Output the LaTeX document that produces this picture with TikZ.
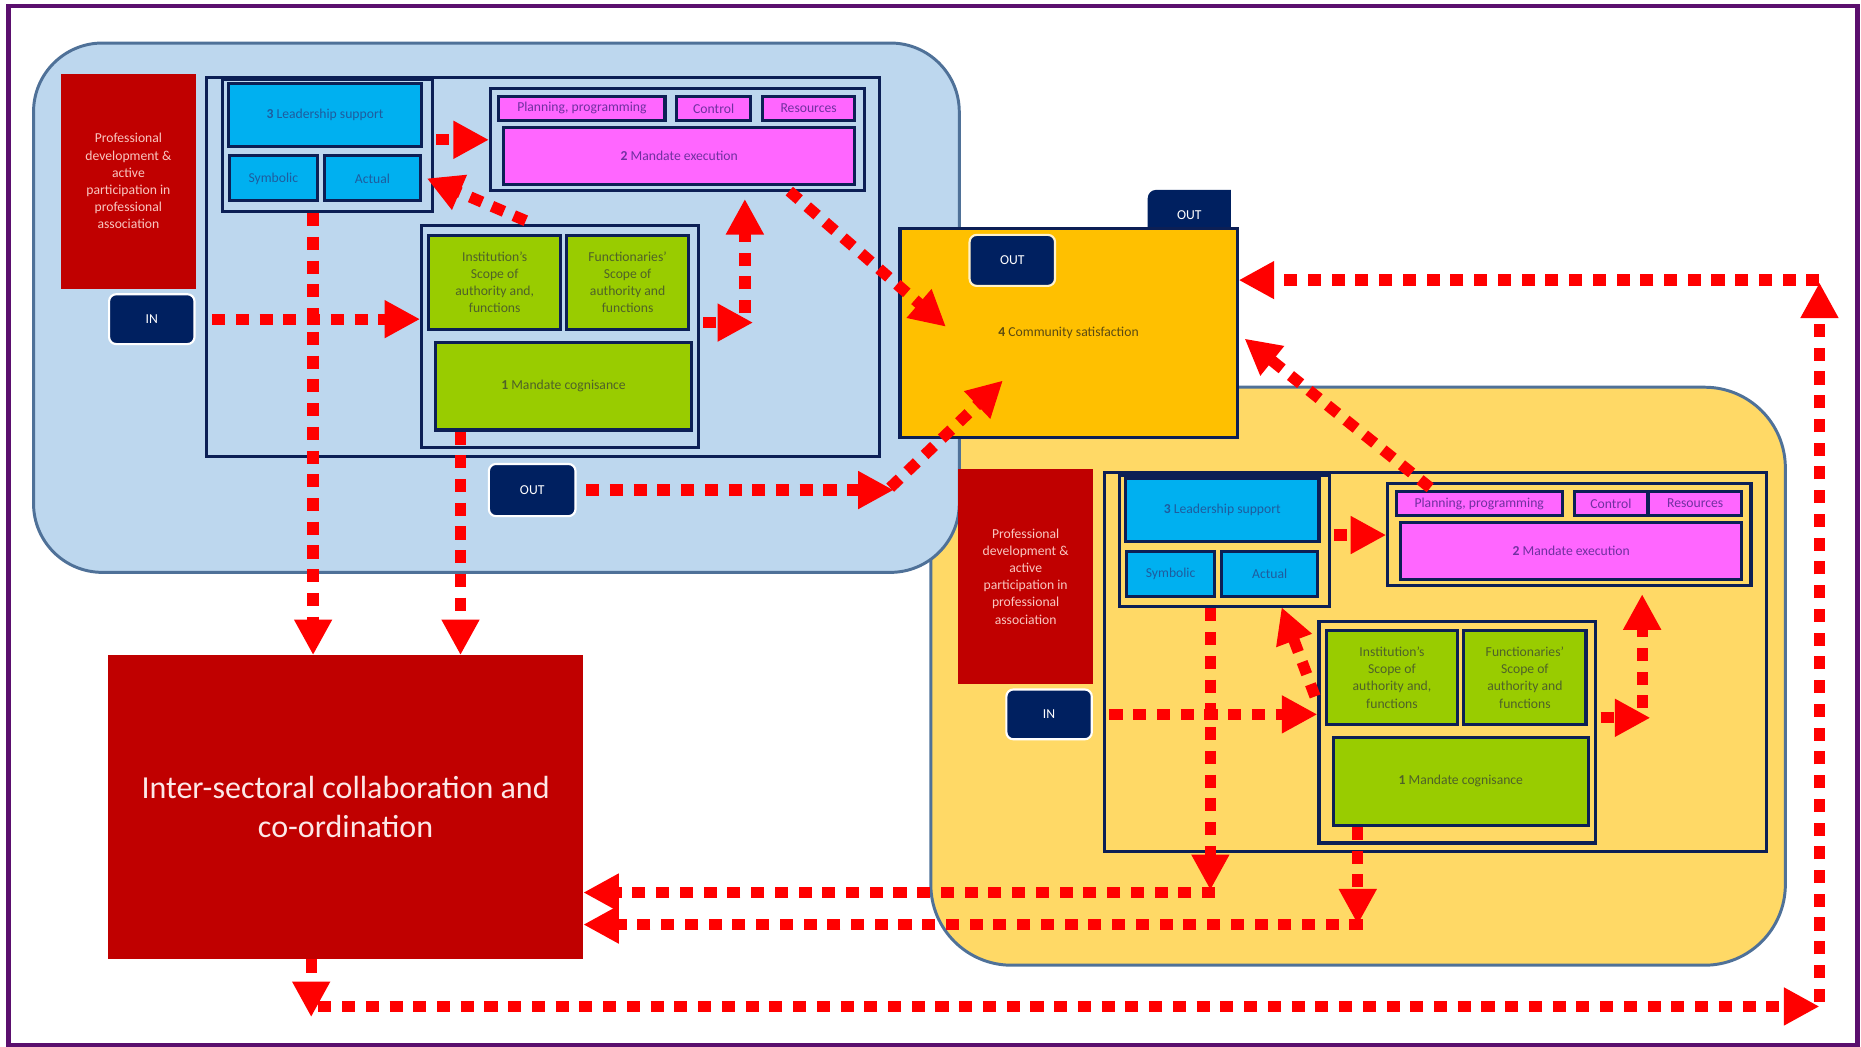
\documentclass[tikz,border=0pt]{standalone}
\usepackage{fontspec}
\setmainfont{Carlito}
\usetikzlibrary{arrows.meta,calc}

\definecolor{frameblue}{HTML}{0C1F55}
\definecolor{portnavy}{HTML}{002060}
\definecolor{lscyan}{HTML}{00B0F0}
\definecolor{lspink}{HTML}{FF66FF}
\definecolor{lsgreen}{HTML}{99CC00}
\definecolor{lsorange}{HTML}{FFC000}
\definecolor{lsred}{HTML}{C00000}
\definecolor{regblue}{HTML}{BDD7EE}
\definecolor{reggold}{HTML}{FFD966}
\definecolor{regline}{HTML}{4F7198}
\definecolor{flowred}{HTML}{FF0000}
\definecolor{edgepurple}{HTML}{5B0F6E}
\definecolor{cyantext}{HTML}{1F5C9E}
\definecolor{pinktext}{HTML}{7030A0}
\definecolor{greentext}{HTML}{4F6228}
\definecolor{cstext}{HTML}{5B4A12}
\definecolor{pdtext}{HTML}{F8C6C0}
\definecolor{isctext}{HTML}{FCE8E8}
\definecolor{cream}{HTML}{FFF2CC}

% rectangle node given by its corners: style, name, x1, y1, x2, y2, text
\newcommand\rbox[7]{\node[#1, anchor=north west, minimum width={(#5)-(#3)}, minimum height={(#6)-(#4)}] (#2) at (#3,#4) {#7};}

% one governance unit (leadership, execution, cognisance)
\newcommand\govsystem[1]{%
  \def\dx{#1}%
  \rbox{pdbox}{PD}{51}{62}{165}{243}{Professional\\development \&\\active\\participation in\\professional\\association}
  \rbox{portbox}{IN}{91}{247}{163}{289}{IN}
  \rbox{grp}{frame}{173}{64}{740-\dx}{383}{}
  \rbox{grp}{leadgrp}{186}{66}{363}{177}{}
  \rbox{cyanbox}{lead}{191}{69}{354}{122}{\textbf{3} Leadership support}
  \rbox{cyanbox}{symb}{192}{130}{266}{168}{Symbolic}
  \rbox{cyanbox}{actual}{272}{130}{353}{168}{Actual}
  \rbox{grp}{execgrp}{412}{73}{727-\dx}{159}{}
  \rbox{pinkbox}{plan}{419}{80}{559}{100}{Planning, programming}
  \rbox{pinkbox}{ctrl}{569}{80}{631}{100}{Control}
  \rbox{pinkbox}{res}{641-\dx}{80}{719-\dx}{100}{Resources}
  \rbox{pinkbox}{exec}{423}{106}{719-\dx}{154}{\textbf{2} Mandate execution}
  \rbox{grp}{cogngrp}{354}{189}{587}{376}{}
  \rbox{greenbox}{inst}{360}{197}{471}{276}{Institution’s\\Scope of\\authority and,\\functions}
  \rbox{greenbox}{func}{476}{197}{579}{276}{Functionaries’\\Scope of\\authority and\\functions}
  \rbox{greenbox}{cogn}{366}{287}{581}{361}{\textbf{1} Mandate cognisance}
}

\begin{document}
\begin{tikzpicture}[x=1pt, y=-1pt,
  smallfont/.style={font=\fontsize{11.5}{14.5}\selectfont},
  box/.style={draw=frameblue, line width=2.6pt, inner sep=0pt, align=center, smallfont},
  grp/.style={draw=frameblue, line width=2.6pt, inner sep=0pt},
  cyanbox/.style={box, fill=lscyan, text=cyantext},
  pinkbox/.style={box, fill=lspink, text=pinktext},
  greenbox/.style={box, fill=lsgreen, text=greentext},
  portbox/.style={fill=portnavy, draw=white, line width=1.8pt, rounded corners=6pt, text=white, inner sep=0pt, smallfont},
  pdbox/.style={fill=lsred, inner sep=0pt, align=center, text=pdtext, smallfont},
  region/.style={draw=regline, line width=2.5pt, inner sep=0pt},
  flow/.style={draw=flowred, line width=9.5pt, dash pattern=on 11pt off 9pt,
    -{Triangle[length=30pt,width=30pt]}},
]
\useasboundingbox (0,0) rectangle (1568,882);
\node[draw=edgepurple, line width=4pt, anchor=north west, minimum width=1558pt, minimum height=876pt, inner sep=0pt] (edge) at (5,3) {};

% background regions
\rbox{region, fill=reggold, rounded corners=68pt}{goldregion}{783}{325}{1503}{812}{}
\rbox{region, fill=regblue, rounded corners=58pt}{blueregion}{27}{35}{807}{481}{}

% the two units
\begin{scope}[name prefix=A-]
  \govsystem{0}
  \rbox{portbox}{OUT}{411}{390}{484}{434}{OUT}
\end{scope}
\begin{scope}[shift={(756,333)}, name prefix=B-]
  \govsystem{9}
\end{scope}

% community satisfaction
\fill[portnavy, rounded corners=7pt] (967,195) -- (967,160) [sharp corners] -- (1037,160) -- (1037,195) -- cycle;
\node[text=white, smallfont] (outtop) at (1002,181) {OUT};
\rbox{box, fill=lsorange, text=cstext}{cs}{757}{191}{1041}{367}{\textbf{4} Community satisfaction}
\rbox{portbox, draw=cream}{csout}{816}{197}{888}{240}{OUT}

% inter-sectoral collaboration
\rbox{fill=lsred, text=isctext, align=center, inner sep=0pt, font=\fontsize{27}{33}\selectfont}{isc}{91}{552}{491}{808}{Inter-sectoral collaboration and\\co-ordination}

% helper points
\coordinate (rowA) at (0,752);
\coordinate (rowB) at (0,779);
\coordinate (rowC) at (0,848);
\coordinate (loopSE) at (1533,848);
\coordinate (loopNE) at (1533,236);

% ---- flows of the upper unit
\draw[flow] ([xshift=14pt]A-IN.east) -- (A-IN.east -| A-cogngrp.west);
\coordinate (a2s) at ([xshift=-12pt]A-leadgrp.south);
\draw[flow] (a2s) -- (a2s |- A-frame.south) -- (a2s |- isc.north);
\coordinate (a3s) at ([xshift=22pt]A-cogn.south west);
\draw[flow] (a3s) -- (a3s |- isc.north);
\coordinate (a4s) at ([shift={(2,-5)}]A-leadgrp.east);
\draw[flow] (a4s) -- (a4s -| A-execgrp.west);
\coordinate (a5s) at ([shift={(89,-3)}]A-cogngrp.north west);
\draw[flow] (a5s) -- ([xshift=4pt]A-actual.east);
\coordinate (a6s) at ([shift={(3,-12)}]A-cogngrp.east);
\draw[flow] (a6s) -- ([xshift=42pt]a6s);
\coordinate (a6v) at ([shift={(38,-20)}]A-cogngrp.east);
\draw[flow] (a6v) -- ($(a6v |- A-execgrp.south)+(0,6)$);
\coordinate (a7s) at (665,161);
\draw[flow] (a7s) -- ([shift={(40,-5)}]cs.west);
\coordinate (a8s) at ([xshift=8pt]A-OUT.east);
\coordinate (a8m) at ($(A-OUT.east -| cs.west)+(-4,0)$);
\draw[flow] (a8s) -- (a8m);
\draw[flow] ([shift={(-3,-2)}]a8m) -- ([shift={(88,-49)}]cs.south west);

% ---- flows of the lower unit
\draw[flow] ([xshift=14pt]B-IN.east) -- (B-IN.east -| B-cogngrp.west);
\coordinate (b2s) at ([xshift=-12pt]B-leadgrp.south);
\coordinate (b2c) at (b2s |- rowA);
\draw[flow] ([xshift=4pt]b2c) -- (b2c -| isc.east);
\draw[flow] (b2s) -- ($(b2c)+(0,-2)$);
\coordinate (b3s) at ([xshift=22pt]B-cogn.south west);
\coordinate (b3c) at (b3s |- rowB);
\draw[flow] ([xshift=4pt]b3c) -- (b3c -| isc.east);
\draw[flow] (b3s) -- (b3c);
\coordinate (b4s) at ([shift={(2,-5)}]B-leadgrp.east);
\draw[flow] (b4s) -- (b4s -| B-execgrp.west);
\coordinate (b5s) at ([shift={(-2,-30)}]B-cogngrp.west);
\draw[flow] (b5s) -- ([shift={(10,8)}]B-actual.south);
\coordinate (b6s) at ([shift={(3,-12)}]B-cogngrp.east);
\draw[flow] (b6s) -- ([xshift=42pt]b6s);
\coordinate (b6v) at ([shift={(38,-20)}]B-cogngrp.east);
\draw[flow] (b6v) -- ($(b6v |- B-execgrp.south)+(0,6)$);
\coordinate (b7s) at ([shift={(30,-2)}]B-plan.north west);
\draw[flow] (b7s) -- ([shift={(5,5)}]cs.east);

% ---- feedback loop
\coordinate (c1s) at ([xshift=-29pt]isc.south);
\coordinate (c1c) at (c1s |- rowC);
\draw[flow] ([xshift=6pt]c1c) -- (loopSE);
\draw[flow] (c1s) -- ($(c1c)+(0,9)$);
\draw[flow] ($(loopSE)+(0,-4)$) -- ($(loopNE)+(0,2)$);
\draw[flow] (loopNE) -- (loopNE -| cs.east);
\end{tikzpicture}
\end{document}
